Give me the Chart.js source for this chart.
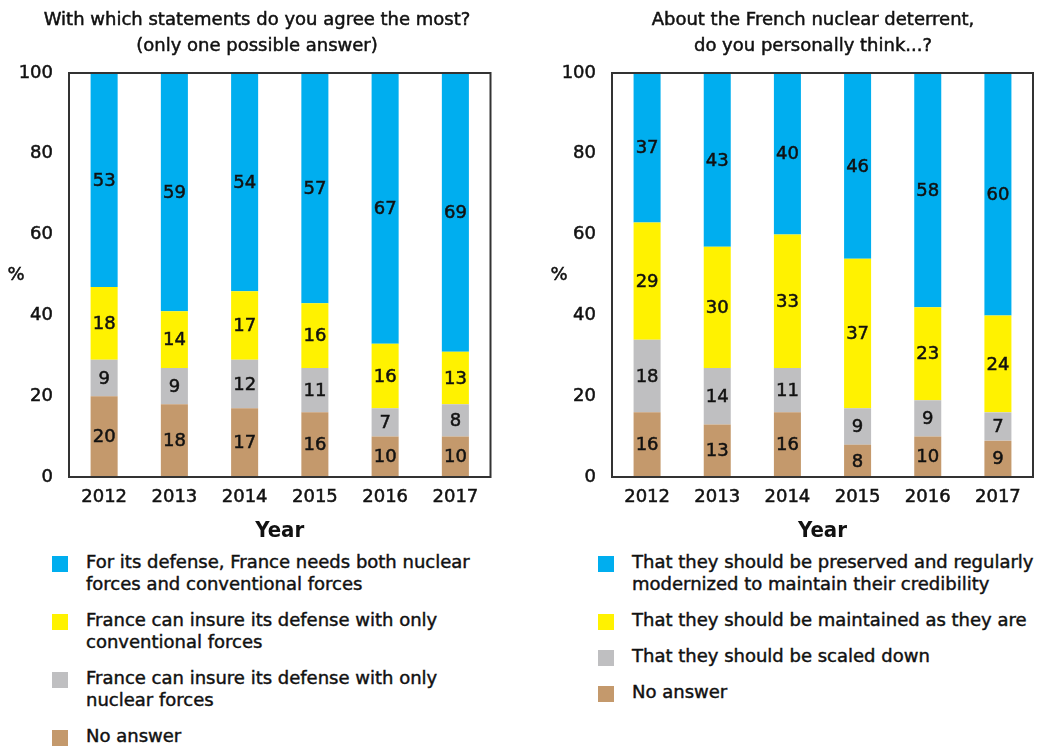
<!DOCTYPE html>
<html>
<head>
<meta charset="utf-8">
<script src="https://cdn.jsdelivr.net/npm/chart.js@4.4.0/dist/chart.umd.min.js"></script>
<style>
  html, body { margin: 0; padding: 0; background: #fff; }
  body { width: 1040px; height: 747px; position: relative; overflow: hidden; font-family: 'DejaVu Sans', sans-serif; color: #111; }
  canvas { position: absolute; top: 0; }
  #cLeft { left: 0; }
  #cRight { left: 520px; }
  .legend { position: absolute; top: 551px; }
  #legLeft { left: 52px; }
  #legRight { left: 598px; }
  .item { display: flex; align-items: flex-start; margin-bottom: 14px; }
  .sw { width: 16px; height: 16px; flex: none; margin-top: 5px; margin-right: 18px; }
  .txt { font-size: 18px; line-height: 22px; white-space: pre; color: #111; -webkit-text-stroke: 0.45px #111; }
</style>
</head>
<body>
<canvas id="cLeft" width="520" height="550"></canvas>
<canvas id="cRight" width="520" height="550"></canvas>
<div id="legLeft" class="legend"></div>
<div id="legRight" class="legend"></div>
<script>
// ---- Data ----
const years = ['2012', '2013', '2014', '2015', '2016', '2017'];
const yTicks = [0, 20, 40, 60, 80, 100];

// Left: "With which statements do you agree the most?"
const leftTitle = ['With which statements do you agree the most?', '(only one possible answer)'];
const leftNoAnswer = [20, 18, 17, 16, 10, 10];
const leftNuclearOnly = [9, 9, 12, 11, 7, 8];
const leftConventionalOnly = [18, 14, 17, 16, 16, 13];
const leftBoth = [53, 59, 54, 57, 67, 69];
const leftLabels = [
  'No answer',
  'France can insure its defense with only\nnuclear forces',
  'France can insure its defense with only\nconventional forces',
  'For its defense, France needs both nuclear\nforces and conventional forces'
];

// Right: "About the French nuclear deterrent"
const rightTitle = ['About the French nuclear deterrent,', 'do you personally think...?'];
const rightNoAnswer = [16, 13, 16, 8, 10, 9];
const rightScaledDown = [18, 14, 11, 9, 9, 7];
const rightMaintained = [29, 30, 33, 37, 23, 24];
const rightModernized = [37, 43, 40, 46, 58, 60];
const rightLabels = [
  'No answer',
  'That they should be scaled down',
  'That they should be maintained as they are',
  'That they should be preserved and regularly\nmodernized to maintain their credibility'
];

const colors = ['#C4996C', '#BFBFC1', '#FFF200', '#00AEEF'];
const FONT = "'DejaVu Sans', sans-serif";
const BOLDFONT = "'DejaVu Sans Condensed', 'DejaVu Sans', sans-serif";
const INK = '#111';
const STROKE = 0.5;

function medText(ctx, t, x, y) {
  ctx.fillText(t, x, y);
  ctx.strokeText(t, x, y);
}

// ---- Plugins ----
const panelTitle = {
  id: 'panelTitle',
  afterDraw(chart, args, opts) {
    const { ctx } = chart;
    ctx.save();
    ctx.fillStyle = INK; ctx.strokeStyle = INK; ctx.lineWidth = STROKE;
    ctx.font = '18px ' + FONT;
    ctx.textAlign = 'center';
    ctx.textBaseline = 'middle';
    opts.lines.forEach((t, i) => medText(ctx, t, opts.centerX, opts.firstY + i * opts.lineGap));
    ctx.restore();
  }
};
const framePlugin = {
  id: 'frame',
  afterDraw(chart) {
    const { ctx, chartArea: a } = chart;
    ctx.save();
    ctx.strokeStyle = '#333';
    ctx.lineWidth = 2;
    ctx.strokeRect(a.left, a.top, a.right - a.left, a.bottom - a.top);
    ctx.fillStyle = INK; ctx.strokeStyle = INK; ctx.lineWidth = STROKE;
    ctx.font = '18px ' + FONT;
    ctx.textAlign = 'center';
    ctx.textBaseline = 'middle';
    medText(ctx, '%', a.left - 53, (a.top + a.bottom) / 2);
    ctx.restore();
  }
};
const valueLabels = {
  id: 'valueLabels',
  afterDatasetsDraw(chart) {
    const { ctx } = chart;
    ctx.save();
    ctx.fillStyle = INK; ctx.strokeStyle = INK; ctx.lineWidth = STROKE;
    ctx.font = '18px ' + FONT;
    ctx.textAlign = 'center';
    ctx.textBaseline = 'middle';
    chart.data.datasets.forEach((ds, i) => {
      const meta = chart.getDatasetMeta(i);
      meta.data.forEach((el, j) => {
        medText(ctx, String(ds.data[j]), el.x, (el.y + el.base) / 2 + 1);
      });
    });
    ctx.restore();
  }
};

function makeChart(id, title, titleX, series, labels, pad, yWidth) {
  const datasets = series.map((s, i) => ({
    label: labels[i].replace('\n', ' '),
    data: s,
    backgroundColor: colors[i],
    borderWidth: 0,
    barPercentage: 0.385,
    categoryPercentage: 1.0
  }));
  const tickStyle = { color: INK, textStrokeColor: INK, textStrokeWidth: STROKE, font: { family: FONT, size: 18 } };
  return new Chart(document.getElementById(id), {
    type: 'bar',
    data: { labels: years, datasets },
    options: {
      responsive: false,
      animation: false,
      layout: { padding: pad },
      plugins: {
        legend: { display: false },
        tooltip: { enabled: false },
        title: { display: false },
        panelTitle: { lines: title, centerX: titleX, firstY: 20, lineGap: 26 }
      },
      scales: {
        x: {
          stacked: true,
          grid: { display: false, drawTicks: false },
          border: { display: false },
          ticks: Object.assign({ padding: 10 }, tickStyle),
          title: { display: true, text: 'Year', color: INK, font: { family: BOLDFONT, size: 22, weight: 'bold' }, padding: { top: 0, bottom: 6 } },
          afterFit(scale) { scale.height = 73; }
        },
        y: {
          stacked: true,
          min: 0, max: 100,
          afterBuildTicks(scale) { scale.ticks = yTicks.map(v => ({ value: v })); },
          grid: { display: false, drawTicks: false },
          border: { display: false },
          ticks: Object.assign({ padding: 16 }, tickStyle),
          afterFit(scale) { scale.width = yWidth; }
        }
      }
    },
    plugins: [framePlugin, valueLabels, panelTitle]
  });
}

const left = makeChart('cLeft', leftTitle, 257,
  [leftNoAnswer, leftNuclearOnly, leftConventionalOnly, leftBoth], leftLabels,
  { left: 5, right: 29.5, top: 73, bottom: 0 }, 64);
const right = makeChart('cRight', rightTitle, 293,
  [rightNoAnswer, rightScaledDown, rightMaintained, rightModernized], rightLabels,
  { left: 5, right: 7, top: 73, bottom: 0 }, 87);

function buildLegend(elId, chart, src) {
  const el = document.getElementById(elId);
  const ds = chart.data.datasets.slice().reverse();
  const txts = src.slice().reverse();
  ds.forEach((d, i) => {
    const item = document.createElement('div');
    item.className = 'item';
    const sw = document.createElement('div');
    sw.className = 'sw';
    sw.style.background = d.backgroundColor;
    const t = document.createElement('div');
    t.className = 'txt';
    t.textContent = txts[i];
    item.appendChild(sw);
    item.appendChild(t);
    el.appendChild(item);
  });
}
buildLegend('legLeft', left, leftLabels);
buildLegend('legRight', right, rightLabels);
</script>
</body>
</html>
